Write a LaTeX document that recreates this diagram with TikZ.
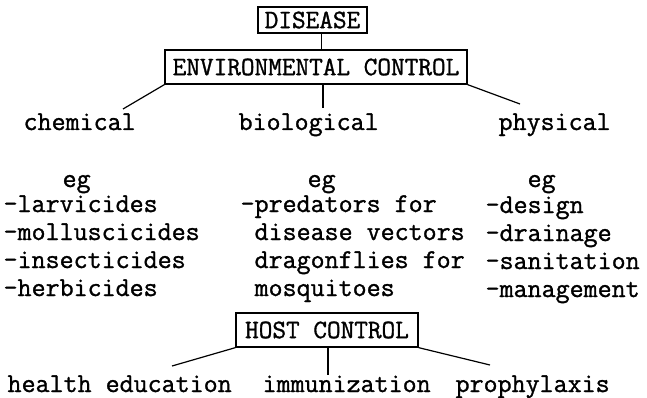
\documentclass[tikz,border=0pt]{standalone}
\usepackage{fontspec}
\setmonofont{Latin Modern Mono}[FakeBold=1.2]
\usetikzlibrary{calc,positioning}
\tikzset{
  tw/.style={font=\ttfamily\fontsize{27.2}{28}\selectfont},
  box/.style={draw, line width=1.3pt, inner sep=0pt, font=\ttfamily\fontsize{26.5}{28}\selectfont},
  word/.style={tw, inner sep=0pt, anchor=base west}
}

\begin{document}
\begin{tikzpicture}[x=1pt,y=-1pt,line width=1.2pt]
  \useasboundingbox (0,0) rectangle (647,398);
  % boxes
  \node[box, minimum width=109pt, minimum height=26pt] (D) at (312.5,20) {DISEASE};
  \node[box, minimum width=302pt, minimum height=34pt] (EC) at (316,67) {ENVIRONMENTAL CONTROL};
  \node[box, minimum width=182pt, minimum height=34pt] (HC) at (327,330) {HOST CONTROL};
  % three kinds
  \node[word] (chem) at (23,130) {chemical};
  \node[word] (bio) at (238,130) {biological};
  \node[word] (phys) at (498,130) {physical};
  \node[word] (egA) at (62,187) {eg};
  \node[word] (egB) at (307,187) {eg};
  \node[word] (egC) at (527,187) {eg};
  \foreach \t [count=\i] in {-larvicides,-molluscicides,-insecticides,-herbicides}
    \node[word] (lA\i) at (3,184+28*\i) {\t};
  \foreach \t [count=\i] in {-predators for,\hphantom{-}disease vectors,\hphantom{-}dragonflies for,\hphantom{-}mosquitoes}
    \node[word] (lB\i) at (240,184+28*\i) {\t};
  \foreach \t [count=\i] in {-design,-drainage,-sanitation,-management}
    \node[word] (lC\i) at (485,185+28*\i) {\t};
  % host measures
  \node[word] (hed) at (7,392) {health education};
  \node[word] (imm) at (262,392) {immunization};
  \node[word] (pro) at (455,392) {prophylaxis};
  \coordinate (chemT) at (123,109);
  \coordinate (bioT) at (323,108);
  \coordinate (physT) at (520,104);
  \coordinate (hedT) at (172,366);
  \coordinate (immT) at (328,375);
  \coordinate (proT) at (490,365);
  \draw ([xshift=9pt]D.south) -- ([xshift=9pt]D.south |- EC.north);
  \draw (EC.south west) -- (chemT);
  \draw (EC.south -| bioT) -- (bioT);
  \draw (EC.south east) -- (physT);
  \draw (HC.south west) -- (hedT);
  \draw (HC.south -| immT) -- (immT);
  \draw (HC.south east) -- (proT);
\end{tikzpicture}
\end{document}
